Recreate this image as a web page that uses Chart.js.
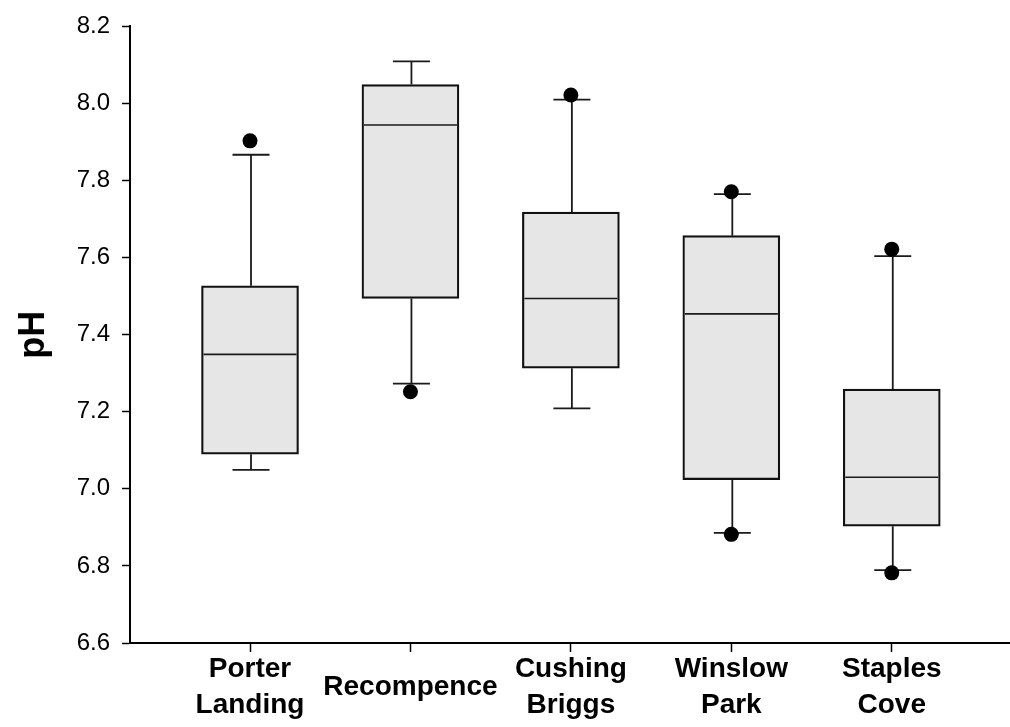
<!DOCTYPE html>
<html>
<head>
<meta charset="utf-8">
<script src="https://cdn.jsdelivr.net/npm/chart.js@4.4.1/dist/chart.umd.min.js"></script>
<style>
  html, body { margin: 0; padding: 0; background: #ffffff; overflow: hidden; }
  #wrap { width: 1010px; height: 727px; }
  canvas { display: block; }
</style>
</head>
<body>
<div id="wrap"><canvas id="myChart" width="1010" height="727"></canvas></div>
<script>
// Sites and box plot values (pH)
const sites = [['Porter', 'Landing'], 'Recompence', ['Cushing', 'Briggs'], ['Winslow', 'Park'], ['Staples', 'Cove']];
const q1 = [7.09, 7.494, 7.313, 7.024, 6.903];
const q3 = [7.527, 8.049, 7.718, 7.657, 7.259];
const medians = [7.349, 7.944, 7.494, 7.454, 7.03];
const whiskerLow = [7.049, 7.273, 7.209, 6.886, 6.789];
const whiskerHigh = [7.867, 8.109, 8.01, 7.765, 7.604];
// outliers: site index + value
const outlierSite = [0, 1, 2, 3, 3, 4, 4];
const outlierValue = [7.903, 7.252, 8.022, 7.771, 6.882, 7.622, 6.782];
const yTicks = [6.6, 6.8, 7.0, 7.2, 7.4, 7.6, 7.8, 8.0, 8.2];

const ctx = document.getElementById('myChart').getContext('2d');

// whiskers + caps before the boxes, medians after
const boxExtras = {
  id: 'boxExtras',
  beforeDatasetsDraw(chart) {
    const x = chart.scales.x, y = chart.scales.y, c = chart.ctx;
    c.save();
    c.strokeStyle = '#1a1a1a';
    c.lineWidth = 1.8;
    for (let i = 0; i < sites.length; i++) {
      const px = x.getPixelForValue(i) + 1;
      const ends = [[q3[i], whiskerHigh[i]], [q1[i], whiskerLow[i]]];
      ends.forEach(function(e) {
        const y0 = y.getPixelForValue(e[0]), y1 = y.getPixelForValue(e[1]);
        c.beginPath();
        c.moveTo(px, y0);
        c.lineTo(px, y1);
        c.moveTo(px - 18.5, y1);
        c.lineTo(px + 18.5, y1);
        c.stroke();
      });
    }
    c.restore();
  },
  afterDatasetsDraw(chart) {
    const x = chart.scales.x, y = chart.scales.y, c = chart.ctx;
    const half = chart.getDatasetMeta(0).data[0].width / 2;
    c.save();
    c.strokeStyle = '#1a1a1a';
    c.lineWidth = 1.6;
    for (let i = 0; i < sites.length; i++) {
      const px = x.getPixelForValue(i);
      const py = y.getPixelForValue(medians[i]);
      c.beginPath();
      c.moveTo(px - half + 2, py);
      c.lineTo(px + half - 2, py);
      c.stroke();
    }
    c.restore();
  }
};

const boxData = sites.map(function(s, i) { return { x: i, y: [q1[i], q3[i]] }; });
const outlierData = outlierSite.map(function(s, i) { return { x: s, y: outlierValue[i] }; });

var myChart = new Chart(ctx, {
  type: 'bar',
  data: {
    datasets: [{
      label: 'Box',
      data: boxData,
      backgroundColor: '#e6e6e6',
      borderColor: '#111111',
      borderWidth: 2.2,
      borderSkipped: false,
      barThickness: 97,
      order: 2
    }, {
      type: 'scatter',
      label: 'Outliers',
      data: outlierData,
      pointRadius: 7.5,
      pointBackgroundColor: '#000000',
      pointBorderWidth: 0,
      order: 1
    }]
  },
  options: {
    responsive: false,
    animation: false,
    layout: { autoPadding: false, padding: { top: 24, right: 0, bottom: 0, left: 0 } },
    plugins: { legend: { display: false }, tooltip: { enabled: false } },
    scales: {
      x: {
        type: 'linear',
        offset: false,
        min: -0.748,
        max: 4.737,
        afterBuildTicks: function(scale) {
          scale.ticks = sites.map(function(s, i) { return { value: i }; });
        },
        afterFit: function(scale) {
          scale.height = 84;
          scale.paddingLeft = 0;
          scale.paddingRight = 0;
        },
        ticks: {
          callback: function(value) { return sites[value]; },
          color: '#000000',
          font: { family: 'Liberation Sans, Arial, sans-serif', size: 28, weight: 'bold', lineHeight: 1.29 },
          padding: 17,
          crossAlign: 'center',
          maxRotation: 0,
          autoSkip: false
        },
        grid: { offset: false, drawOnChartArea: false, drawTicks: true, tickLength: 9, tickColor: '#000000', tickWidth: 1.5 },
        border: { display: true, color: '#000000', width: 2 }
      },
      y: {
        min: 6.6,
        max: 8.2,
        afterBuildTicks: function(scale) {
          scale.ticks = yTicks.map(function(v) { return { value: v }; });
        },
        afterFit: function(scale) { scale.width = 130; },
        ticks: {
          callback: function(value) { return value.toFixed(1); },
          color: '#000000',
          font: { family: 'Liberation Sans, Arial, sans-serif', size: 24 },
          padding: 12
        },
        grid: { drawOnChartArea: false, drawTicks: true, tickLength: 8, tickColor: '#000000', tickWidth: 1.5 },
        border: { display: true, color: '#000000', width: 2 },
        title: {
          display: true,
          text: 'pH',
          color: '#000000',
          font: { family: 'Liberation Sans, Arial, sans-serif', size: 36, weight: 'bold' },
          padding: { top: 12, bottom: 0 }
        }
      }
    }
  },
  plugins: [boxExtras]
});
</script>
</body>
</html>
